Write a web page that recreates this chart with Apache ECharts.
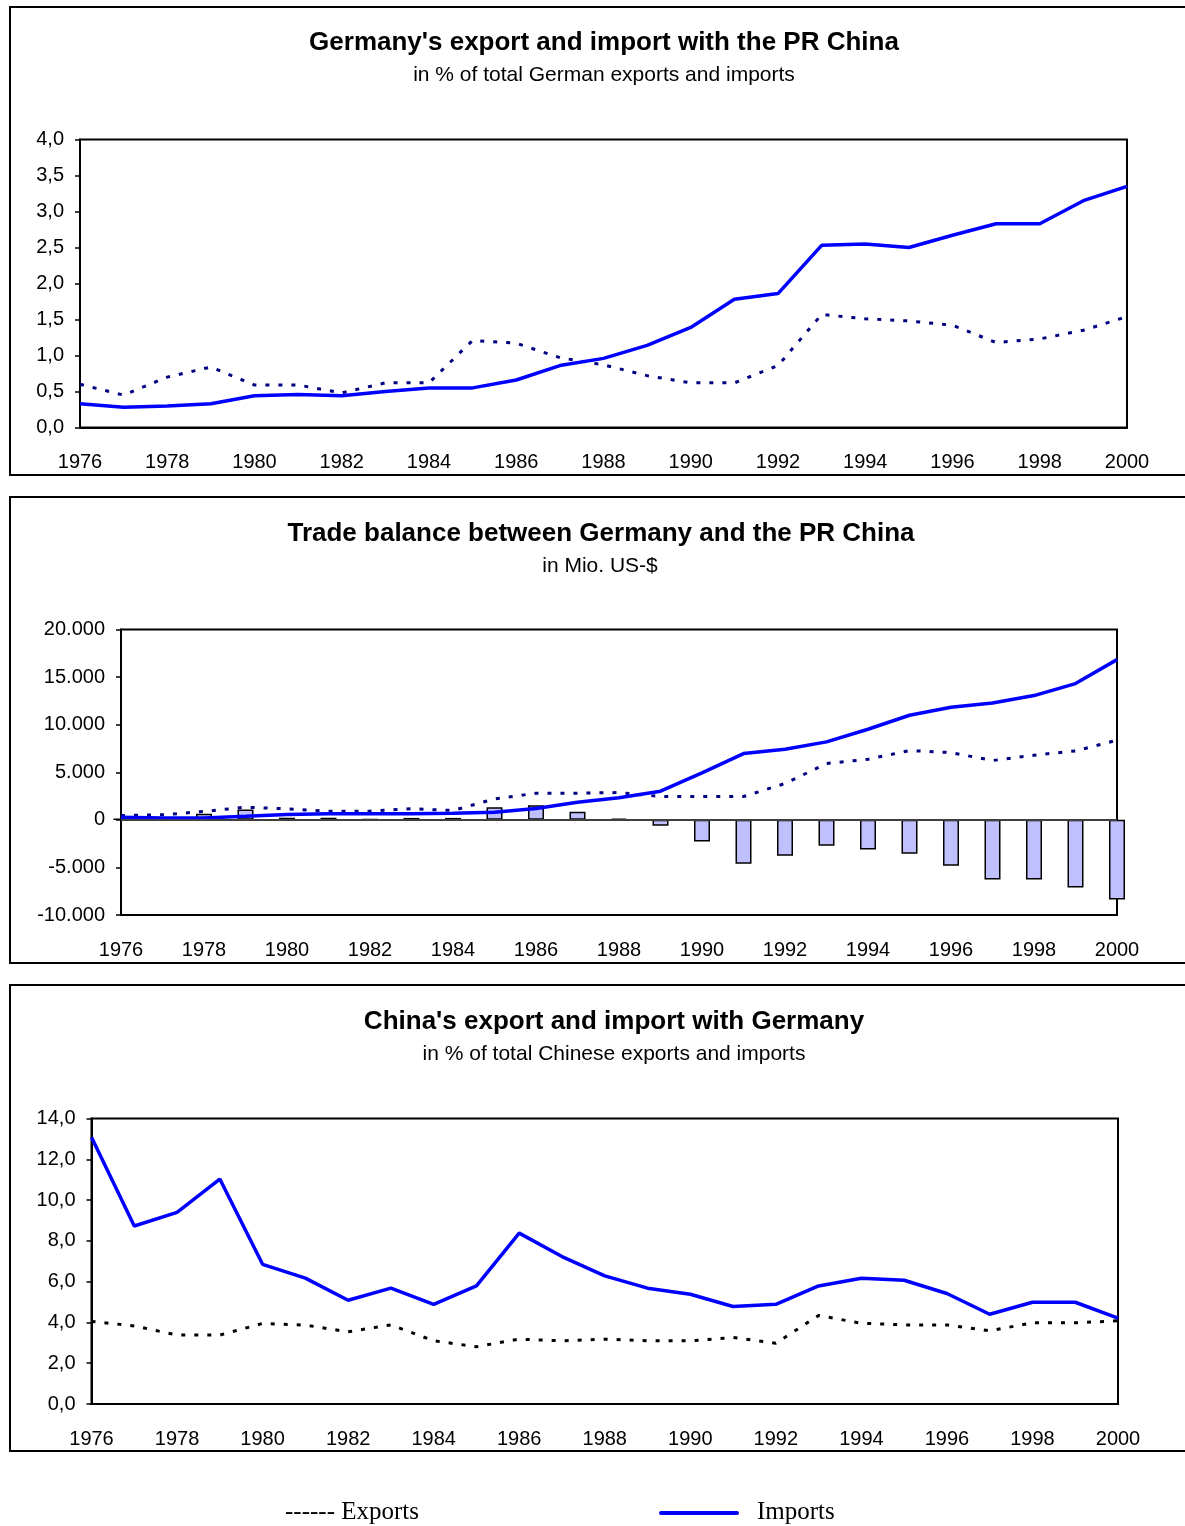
<!DOCTYPE html>
<html>
<head>
<meta charset="utf-8">
<script src="https://cdn.jsdelivr.net/npm/echarts@6/dist/echarts.min.js"></script>
<style>
  html, body { margin: 0; padding: 0; background: #fff; }
  #chart { width: 1185px; height: 1526px; }
</style>
</head>
<body>
<div id="chart"></div>
<script>
// Years shown on every horizontal axis
const years = ['1976','1977','1978','1979','1980','1981','1982','1983','1984','1985','1986','1987','1988',
               '1989','1990','1991','1992','1993','1994','1995','1996','1997','1998','1999','2000'];

// Germany's trade with the PR China, in % of total German exports / imports
const deExportShare = [0.60,0.45,0.70,0.84,0.59,0.59,0.48,0.62,0.62,1.21,1.17,0.97,0.87,
                       0.72,0.62,0.62,0.86,1.57,1.51,1.48,1.42,1.18,1.23,1.35,1.54];
const deImportShare = [0.33,0.28,0.30,0.33,0.44,0.46,0.44,0.50,0.55,0.55,0.66,0.86,0.96,
                       1.14,1.39,1.78,1.86,2.53,2.55,2.50,2.67,2.83,2.83,3.15,3.35];

// Trade between Germany and the PR China, Mio. US-$
const deExports = [460,530,880,1330,1160,910,910,1160,980,2200,2800,2800,2870,
                   2450,2450,2450,3815,5915,6370,7280,7070,6230,6790,7245,8365];
const deImports = [280,200,200,370,570,650,650,650,700,800,1200,1850,2330,
                   3010,4935,6965,7420,8190,9520,10990,11830,12285,13055,14315,16835];
const tradeBalance = [100,50,630,1080,220,220,60,200,200,1330,1540,840,140,
                      -630,-2275,-4620,-3780,-2730,-3115,-3570,-4830,-6265,-6265,-7105,-8365];

// China's trade with Germany, in % of total Chinese exports / imports
const cnExportShare = [4.05,3.83,3.38,3.38,3.95,3.87,3.54,3.88,3.10,2.81,3.18,3.10,3.18,
                       3.10,3.10,3.26,2.98,4.34,3.96,3.88,3.88,3.59,3.98,3.98,4.08];
const cnImportShare = [13.08,8.73,9.40,11.03,6.85,6.17,5.09,5.68,4.89,5.79,8.38,7.23,6.28,
                       5.68,5.38,4.78,4.89,5.79,6.17,6.07,5.42,4.40,4.99,4.99,4.21];

const FONT = '"Liberation Sans", Arial, sans-serif';
const SERIF = '"Liberation Serif", "Times New Roman", serif';
const IMPORT_BLUE = '#0000ff';
const EXPORT_NAVY = '#000080';

const commaDecimal = v => v.toFixed(1).replace('.', ',');
const dotThousands = v => String(v).replace(/\B(?=(\d{3})+(?!\d))/g, '.');

function xAxisFor(gridIndex) {
  return {
    type: 'category', gridIndex, data: years, boundaryGap: false,
    axisLine: { lineStyle: { color: '#000', width: 2 } },
    axisTick: { show: false },
    axisLabel: { interval: 1, color: '#000', fontFamily: FONT, fontSize: 20, margin: 25 },
    splitLine: { show: false }
  };
}
function yAxisFor(gridIndex, min, max, interval, fmt) {
  return {
    type: 'value', gridIndex, min, max, interval,
    axisLine: { show: true, lineStyle: { color: '#000', width: 2 } },
    axisTick: { show: true, length: 5, lineStyle: { color: '#000', width: 1.5 } },
    axisLabel: { color: '#000', fontFamily: FONT, fontSize: 20, margin: 16,
                 verticalAlign: 'middle', lineHeight: 20, padding: [5, 0, 0, 0], formatter: fmt },
    splitLine: { show: false }
  };
}
function importLine(xi, data) {
  return { type: 'line', xAxisIndex: xi, yAxisIndex: xi, data, symbol: 'none', z: 4,
           lineStyle: { color: IMPORT_BLUE, width: 3.5 } };
}
function exportLine(xi, data, color) {
  return { type: 'line', xAxisIndex: xi, yAxisIndex: xi, data, symbol: 'none', z: 3,
           lineStyle: { color, width: 3, type: [4, 9] } };
}
function panelFrame(top, height) {
  return { type: 'rect', shape: { x: 10, y: top, width: 1200, height },
           style: { fill: 'none', stroke: '#000', lineWidth: 2 }, z: 0 };
}
function heading(x, y, text, bold, size) {
  return { type: 'text', x, y, style: { text, fill: '#000', font: (bold ? 'bold ' : '') + size + 'px ' + FONT,
           textAlign: 'center', textVerticalAlign: 'middle' } };
}

const chart = echarts.init(document.getElementById('chart'), null, { renderer: 'canvas' });
chart.setOption({
  animation: false,
  backgroundColor: '#fff',
  grid: [
    { left: 80, top: 139.5, width: 1047, height: 288, show: true, borderColor: '#000', borderWidth: 2, backgroundColor: 'transparent' },
    { left: 121, top: 629.5, width: 996, height: 285.5, show: true, borderColor: '#000', borderWidth: 2, backgroundColor: 'transparent' },
    { left: 91.5, top: 1118.5, width: 1026.5, height: 285.5, show: true, borderColor: '#000', borderWidth: 2, backgroundColor: 'transparent' }
  ],
  xAxis: [xAxisFor(0), xAxisFor(1), xAxisFor(2)],
  yAxis: [
    yAxisFor(0, 0, 4, 0.5, commaDecimal),
    yAxisFor(1, -10000, 20000, 5000, dotThousands),
    yAxisFor(2, 0, 14, 2, commaDecimal)
  ],
  series: [
    exportLine(0, deExportShare, EXPORT_NAVY),
    importLine(0, deImportShare),
    {
      type: 'bar', xAxisIndex: 1, yAxisIndex: 1, data: tradeBalance, barWidth: 16, clip: false, z: 2,
      itemStyle: { color: '#c0c0ff', borderColor: '#000', borderWidth: 1.5 },
      markLine: {
        silent: true, symbol: 'none', label: { show: false },
        lineStyle: { color: '#555', width: 1.5, type: 'solid' },
        data: [{ yAxis: 0 }]
      }
    },
    exportLine(1, deExports, EXPORT_NAVY),
    importLine(1, deImports),
    exportLine(2, cnExportShare, '#000'),
    importLine(2, cnImportShare)
  ],
  graphic: [
    panelFrame(7, 468),
    panelFrame(497, 466),
    panelFrame(985, 466),
    heading(604, 43, "Germany's export and import with the PR China", true, 26),
    heading(604, 75, 'in % of total German exports and imports', false, 21),
    heading(601, 534, 'Trade balance between Germany and the PR China', true, 26),
    heading(600, 566, 'in Mio. US-$', false, 21),
    heading(614, 1022, "China's export and import with Germany", true, 26),
    heading(614, 1054, 'in % of total Chinese exports and imports', false, 21),
    { type: 'text', x: 285, y: 1512, style: { text: '------ Exports', fill: '#000', font: '25px ' + SERIF, textVerticalAlign: 'middle' } },
    { type: 'line', shape: { x1: 661, y1: 1513, x2: 737, y2: 1513 }, style: { stroke: IMPORT_BLUE, lineWidth: 4, lineCap: 'round' } },
    { type: 'text', x: 757, y: 1512, style: { text: 'Imports', fill: '#000', font: '25px ' + SERIF, textVerticalAlign: 'middle' } }
  ]
});
</script>
</body>
</html>
